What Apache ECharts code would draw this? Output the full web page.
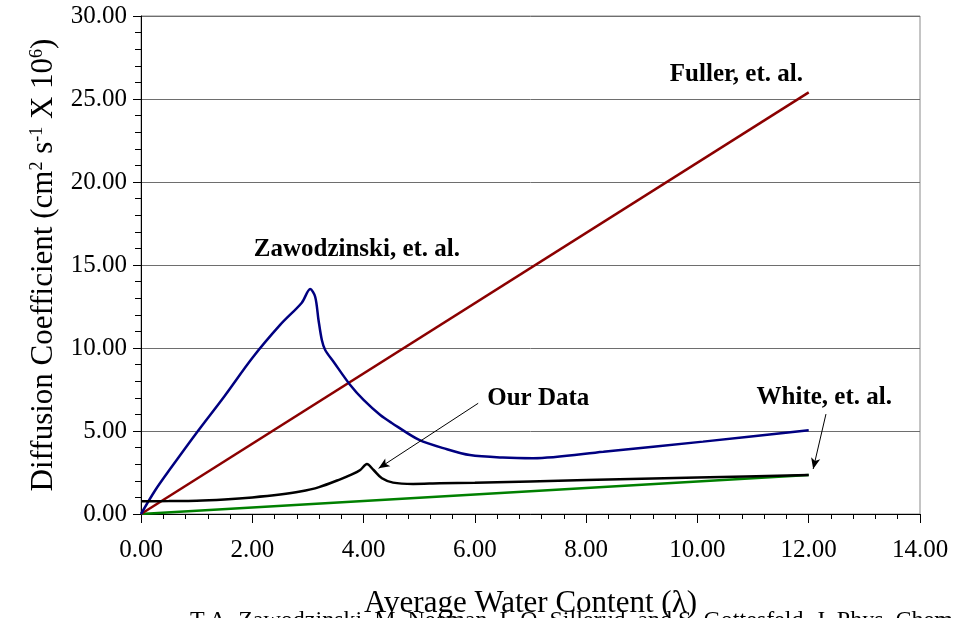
<!DOCTYPE html>
<html>
<head>
<meta charset="utf-8">
<script src="https://cdn.jsdelivr.net/npm/echarts@6/dist/echarts.min.js"></script>
<style>
  html, body { margin: 0; padding: 0; background: #fff; }
  #chart { width: 953px; height: 618px; }
</style>
</head>
<body>
<div id="chart"></div>
<script>
// Water content (lambda) and diffusion coefficient (cm^2 s^-1 x 10^6)
const zawLambda = [0, 0.25, 0.5, 1.0, 1.5, 2.0, 2.5, 2.89, 3.04, 3.13, 3.19, 3.25, 3.31, 3.46, 3.76, 4.0, 4.3, 4.5, 5.0, 5.5, 5.91, 6.5, 7.05, 8.31, 10.1, 12.0];
const zawDiff   = [0, 1.4, 2.6, 4.9, 7.1, 9.4, 11.39, 12.73, 13.55, 13.09, 11.69, 10.48, 9.88, 9.17, 7.77, 6.87, 5.96, 5.5, 4.46, 3.9, 3.55, 3.4, 3.36, 3.75, 4.36, 5.05];

const ourLambda = [0, 0.5, 1.0, 1.5, 2.0, 2.5, 2.86, 3.2, 3.58, 3.8, 3.94, 4.06, 4.18, 4.33, 4.53, 4.89, 5.37, 6.0, 8.0, 10.0, 12.0];
const ourDiff   = [0.77, 0.78, 0.8, 0.88, 1.0, 1.17, 1.35, 1.62, 2.09, 2.4, 2.65, 3.01, 2.65, 2.15, 1.89, 1.81, 1.85, 1.88, 2.05, 2.2, 2.35];

const fullerLambda = [0, 12];
const fullerDiff   = [0, 25.4];

const whiteLambda = [0, 12];
const whiteDiff   = [0, 2.35];

// Curve labels: [lambda, D, text]
const curveLabels = [
  [10.70, 26.45, 'Fuller, et. al.'],
  [3.88, 15.96, 'Zawodzinski, et. al.'],
  [7.14, 6.93, 'Our Data'],
  [12.28, 6.99, 'White, et. al.']
];
// Pointer arrows: [fromLambda, fromD, toLambda, toD]
const pointers = [
  [6.06, 6.67, 4.27, 2.75],
  [12.31, 6.02, 12.08, 2.71]
];

const xTicks = { min: 0, max: 14, step: 2 };
const yTicks = { min: 0, max: 30, step: 5 };

const caption = 'T.A. Zawodzinski, M. Neeman, L.O. Sillerud, and S. Gottesfeld, J. Phys. Chem.';

const pairs = (xs, ys) => xs.map((x, i) => [x, ys[i]]);
const serif = '"Liberation Serif", "Times New Roman", serif';

const chart = echarts.init(document.getElementById('chart'), null, { renderer: 'canvas' });

chart.setOption({
  animation: false,
  backgroundColor: '#fff',
  grid: {
    left: 141, right: 33, top: 16, bottom: 104,
    show: true, borderColor: '#8a8a8a', borderWidth: 1,
    outerBoundsMode: 'none'
  },
  xAxis: {
    type: 'value',
    min: xTicks.min, max: xTicks.max, interval: xTicks.step,
    axisLine: { show: true, onZero: false, lineStyle: { color: '#000', width: 1 } },
    axisTick: { show: true, length: 9, lineStyle: { color: '#000' } },
    minorTick: { show: true, splitNumber: 5, length: 5, lineStyle: { color: '#000' } },
    splitLine: { show: false },
    axisLabel: {
      margin: 24, color: '#000', fontFamily: serif, fontSize: 25,
      formatter: v => v.toFixed(2)
    },
    name: 'Average Water Content (λ)',
    nameLocation: 'middle', nameGap: 74,
    nameTextStyle: { color: '#000', fontFamily: serif, fontSize: 31 }
  },
  yAxis: {
    type: 'value',
    min: yTicks.min, max: yTicks.max, interval: yTicks.step,
    axisLine: { show: true, onZero: false, lineStyle: { color: '#000', width: 1 } },
    axisTick: { show: true, length: 8, lineStyle: { color: '#000' } },
    minorTick: { show: true, splitNumber: 5, length: 6, lineStyle: { color: '#000' } },
    splitLine: { show: true, lineStyle: { color: '#6e6e6e', width: 1 } },
    axisLabel: {
      margin: 14, color: '#000', fontFamily: serif, fontSize: 25,
      formatter: v => v.toFixed(2)
    },
    name: '{n|Diffusion Coefficient (cm}{s|2}{n| s}{s|-1}{n| X 10}{s|6}{n|)}',
    nameLocation: 'middle', nameGap: 82,
    nameTextStyle: {
      color: '#000', fontFamily: serif, fontSize: 31,
      rich: {
        n: { fontFamily: serif, fontSize: 31, color: '#000' },
        s: { fontFamily: serif, fontSize: 18, color: '#000', verticalAlign: 'top' }
      }
    }
  },
  series: [
    {
      name: 'White, et. al.', type: 'line', data: pairs(whiteLambda, whiteDiff),
      showSymbol: false, lineStyle: { color: '#008000', width: 2.5 }, z: 2
    },
    {
      name: 'Fuller, et. al.', type: 'line', data: pairs(fullerLambda, fullerDiff),
      showSymbol: false, lineStyle: { color: '#8b0000', width: 2.5 }, z: 3
    },
    {
      name: 'Zawodzinski, et. al.', type: 'line', data: pairs(zawLambda, zawDiff),
      smooth: 0.3, showSymbol: false, lineStyle: { color: '#000080', width: 2.5 }, z: 4
    },
    {
      name: 'Our Data', type: 'line', data: pairs(ourLambda, ourDiff),
      smooth: 0.3, showSymbol: false, lineStyle: { color: '#000', width: 2.5 }, z: 5,
      markLine: {
        silent: true, animation: false,
        symbol: ['none', 'arrow'], symbolSize: [0, 9],
        label: { show: false },
        lineStyle: { color: '#000', width: 1, type: 'solid' },
        data: pointers.map(p => [
          { coord: [p[0], p[1]], symbol: 'none' },
          { coord: [p[2], p[3]], symbol: 'arrow', symbolSize: [7, 11] }
        ])
      }
    },
    {
      name: 'labels', type: 'scatter', symbolSize: 0, silent: true, z: 6,
      itemStyle: { color: '#000', opacity: 1 },
      data: curveLabels.map(l => ({ value: [l[0], l[1]], name: l[2] })),
      label: {
        show: true, position: 'inside', formatter: '{b}',
        color: '#000', textBorderWidth: 0, textBorderColor: 'transparent',
        fontFamily: serif, fontWeight: 'bold', fontSize: 25
      }
    }
  ],
  graphic: [
    {
      type: 'text', left: 190, top: 609, silent: true,
      style: { text: caption, fill: '#000', font: '24px ' + serif }
    }
  ]
});
</script>
</body>
</html>
